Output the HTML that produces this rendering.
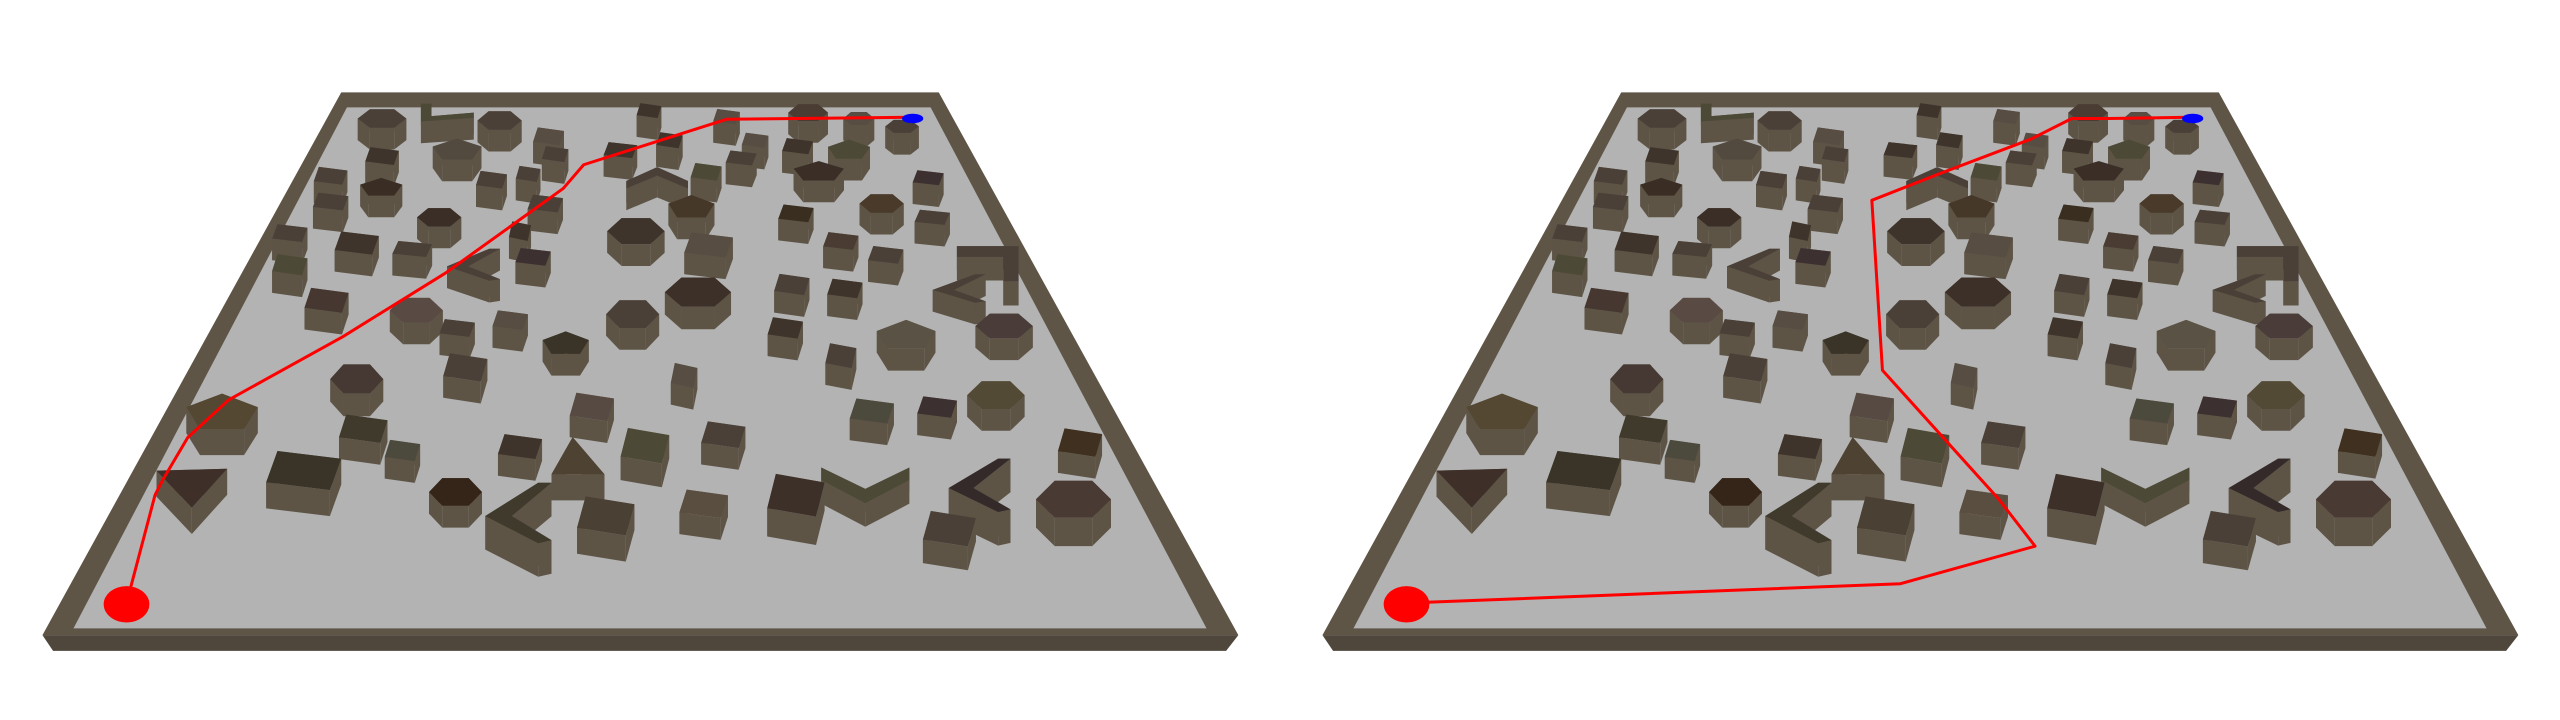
<!DOCTYPE html>
<html><head><meta charset="utf-8"><style>
html,body{margin:0;padding:0;background:#fff;width:2560px;height:720px;overflow:hidden}
svg{display:block}
</style></head><body>
<svg id="scene" width="2560" height="720" viewBox="0 0 2560 720" xmlns="http://www.w3.org/2000/svg"></svg>
<script>
// obstacles (reference-zoom coords): type, cx, cy, w, h, colour
const obsTypes = ['hex','L','hex','box','box','box','hex','hex','hex','box','pent','box','box','box','box','box','box','pent','box','pent','box','box','chevU','box','pent','box','box','box','hex','pent','box','hex','box','box','box','box','box','hex','box','box','Lt','box','box','box','Lr','box','hex','hex','box','box','Lt','box','box','hex','pent','box','pent','hex','hex','box','box','box','box','box','hex','box','pent','box','box','box','tri','box','box','box','triL','box','hex','Lt','box','box','box','V','Lt','box','hex'];
const obsX = [468,548,612,672,795,890,990,1052,1105,468,560,680,760,820,925,908,977,1040,405,467,602,647,805,865,1003,1137,405,668,538,847,975,1080,1142,355,437,505,637,779,868,355,580,653,1030,1085,1210,400,510,855,970,1035,1175,560,625,775,693,962,1110,1230,437,570,838,1030,1068,1148,1220,725,272,445,493,637,708,790,886,1323,235,372,558,635,742,862,975,1060,1200,1163,1315];
const obsY = [170,155,175,215,150,165,155,170,190,265,250,260,250,225,225,270,240,250,315,345,325,310,320,305,305,320,380,385,420,395,410,385,420,460,485,500,455,455,490,540,540,520,480,515,540,630,655,610,590,600,600,700,680,665,740,700,720,695,830,800,820,770,910,900,870,900,920,955,1010,1000,1030,1000,970,990,1110,1065,1115,1180,1180,1145,1130,1100,1110,1210,1140];
const obsW = [55,60,50,35,28,30,45,35,38,38,58,30,38,30,30,35,35,50,38,50,35,28,70,35,60,35,40,40,50,55,40,50,40,40,50,45,25,65,55,40,60,40,40,40,70,50,60,75,40,40,60,40,40,60,55,40,70,65,60,50,30,35,50,45,65,50,85,55,40,50,60,55,50,50,80,85,60,75,65,55,65,100,70,60,85];
const obsH = [60,50,60,50,40,35,55,35,40,50,65,45,45,45,35,40,45,60,50,55,50,45,60,50,60,40,50,50,60,70,50,60,40,50,65,45,55,85,70,60,90,50,50,50,100,70,80,95,60,55,80,50,55,90,70,60,90,80,95,80,70,70,70,60,90,80,110,80,60,70,110,100,75,80,110,110,90,170,110,80,120,100,150,100,120];
const obsC = ['#4a4038','#4c4a36','#4a4038','#574d42','#3f342b','#574d42','#4a3c32','#574d42','#4a4038','#3f342b','#524a3e','#4a4038','#3f342b','#3f342b','#574d42','#4a4038','#3f342b','#4c4a36','#4a4038','#3a2e24','#4a4038','#4a4038','#4a4038','#4c4a36','#3a2e26','#3c3030','#4a4038','#4a4038','#3a2e26','#463828','#3a2e20','#4a3a2a','#4a4038','#4a4038','#3f342b','#4a4038','#3f342b','#3f342b','#574d42','#4c4a36','#4a4038','#3c3030','#4a3c32','#4a4038','#4a4038','#463830','#5a4a44','#3c3028','#4a4038','#3f342b','#4a4038','#4a4038','#574d42','#4a4038','#3a3428','#3f342b','#5a5244','#4a3c38','#463832','#4a4038','#574d42','#4a4038','#4c4a3c','#3c3030','#524a34','#574a42','#554832','#3f3a2c','#4c4a3c','#3f342b','#4e4232','#4c4a36','#4a4038','#3f3020','#3e3028','#3a3428','#352418','#3f3a2c','#4a4034','#5a4e40','#3c3028','#4c4a36','#352a2a','#4a4038','#4a3a34'];
// paths (zoom coords)
const pathLX = [160,190,200,230,280,420,545,690,715,890,1115];
const pathLY = [1335,1100,1060,955,860,700,540,325,265,150,145];
const pathRX = [180,760,925,880,738,725,805,920,970,1015,1115];
const pathRY = [1372,1325,1230,1110,785,355,290,200,148,148,145];

const NS='http://www.w3.org/2000/svg';
const svg=document.getElementById('scene');
const SX=1/1.225, SY=1/2.53, OY=60;
const SHAPES={
 hex:[...Array(6)].map((_,k)=>[0.5*Math.cos((k*60)*Math.PI/180),0.5*Math.sin((k*60)*Math.PI/180)]),
 pent:[...Array(5)].map((_,k)=>[0.5*Math.cos((-90+k*72)*Math.PI/180),0.5*Math.sin((-90+k*72)*Math.PI/180)]),
 box:[[-0.35,-0.5],[0.5,-0.3],[0.35,0.5],[-0.5,0.3]],
 tri:[[-0.1,-0.5],[0.5,0.45],[-0.5,0.45]],
 triL:[[-0.5,-0.45],[0.5,-0.5],[0.0,0.5]],
 V:[[-0.5,-0.5],[0,0.1],[0.5,-0.5],[0.5,-0.15],[0,0.5],[-0.5,-0.15]],
 chevU:[[-0.5,0.5],[0,-0.1],[0.5,0.5],[0.5,0.15],[0,-0.5],[-0.5,0.15]],
 Lt:[[0.5,-0.5],[-0.1,0.05],[0.5,0.45],[0.3,0.5],[-0.5,0.05],[0.3,-0.5]],
 Lr:[[-0.5,-0.5],[0.5,-0.5],[0.5,0.5],[0.25,0.5],[0.25,-0.2],[-0.5,-0.2]],
 L:[[-0.5,-0.5],[-0.3,-0.5],[-0.3,0.2],[0.5,0.0],[0.5,0.3],[-0.5,0.5]]
};
function el(tag,attrs,parent){const e=document.createElementNS(NS,tag);for(const k in attrs)e.setAttribute(k,attrs[k]);(parent||svg).appendChild(e);return e;}
function pts(a){return a.map(p=>p[0].toFixed(1)+','+p[1].toFixed(1)).join(' ');}

function drawPanel(ox, px, py, name){
  const g=el('g',{transform:`translate(${ox},${OY}) scale(${SX},${SY})`});
  
  
  const wall=el('polygon',{points:'418,82 1150,82 1517,1455 52,1455',fill:'#5e5547'},g);
  
  
  const front=el('polygon',{points:'52,1455 1517,1455 1502,1495 65,1495',fill:'#4f473b'},g);
  
  
  const floor=el('polygon',{points:'425,120 1140,120 1478,1438 90,1438',fill:'#b3b3b3'},g);
  
  
  const idx=obsX.map((_,i)=>i).sort((a,b)=>obsY[a]-obsY[b]);
  for(const i of idx){
    const sh=SHAPES[obsTypes[i]]||SHAPES.box;
    const d=Math.max(55,Math.min(85,obsH[i]*0.6));
    const th=Math.max(obsH[i]*0.9,38);
    const ty=obsY[i]-d*0.4;
    const top=sh.map(p=>[obsX[i]+p[0]*obsW[i]*1.08, ty+p[1]*th]);
    const og=el('g',{},g);
    
    
    for(let k=0;k<top.length;k++){
      const a=top[k],b=top[(k+1)%top.length];
      el('polygon',{points:pts([a,b,[b[0],b[1]+d],[a[0],a[1]+d]]),fill:'#5d5446'},og);
    }
    el('polygon',{points:pts(top),fill:obsC[i]},og);
  }
  const line=el('polyline',{points:pts(px.map((x,k)=>[x,py[k]])),fill:'none',stroke:'#ff0000','stroke-width':3,'vector-effect':'non-scaling-stroke','stroke-linejoin':'round'},g);
  
  
  const s=el('ellipse',{cx:155,cy:1377,rx:28,ry:46,fill:'#ff0000'},g);
  
  
  const e=el('ellipse',{cx:1118,cy:148,rx:13,ry:12,fill:'#0000ff'},g);
  
  
}
drawPanel(0,pathLX,pathLY,'left-panel');
drawPanel(1280,pathRX,pathRY,'right-panel');
</script>
</body></html>
